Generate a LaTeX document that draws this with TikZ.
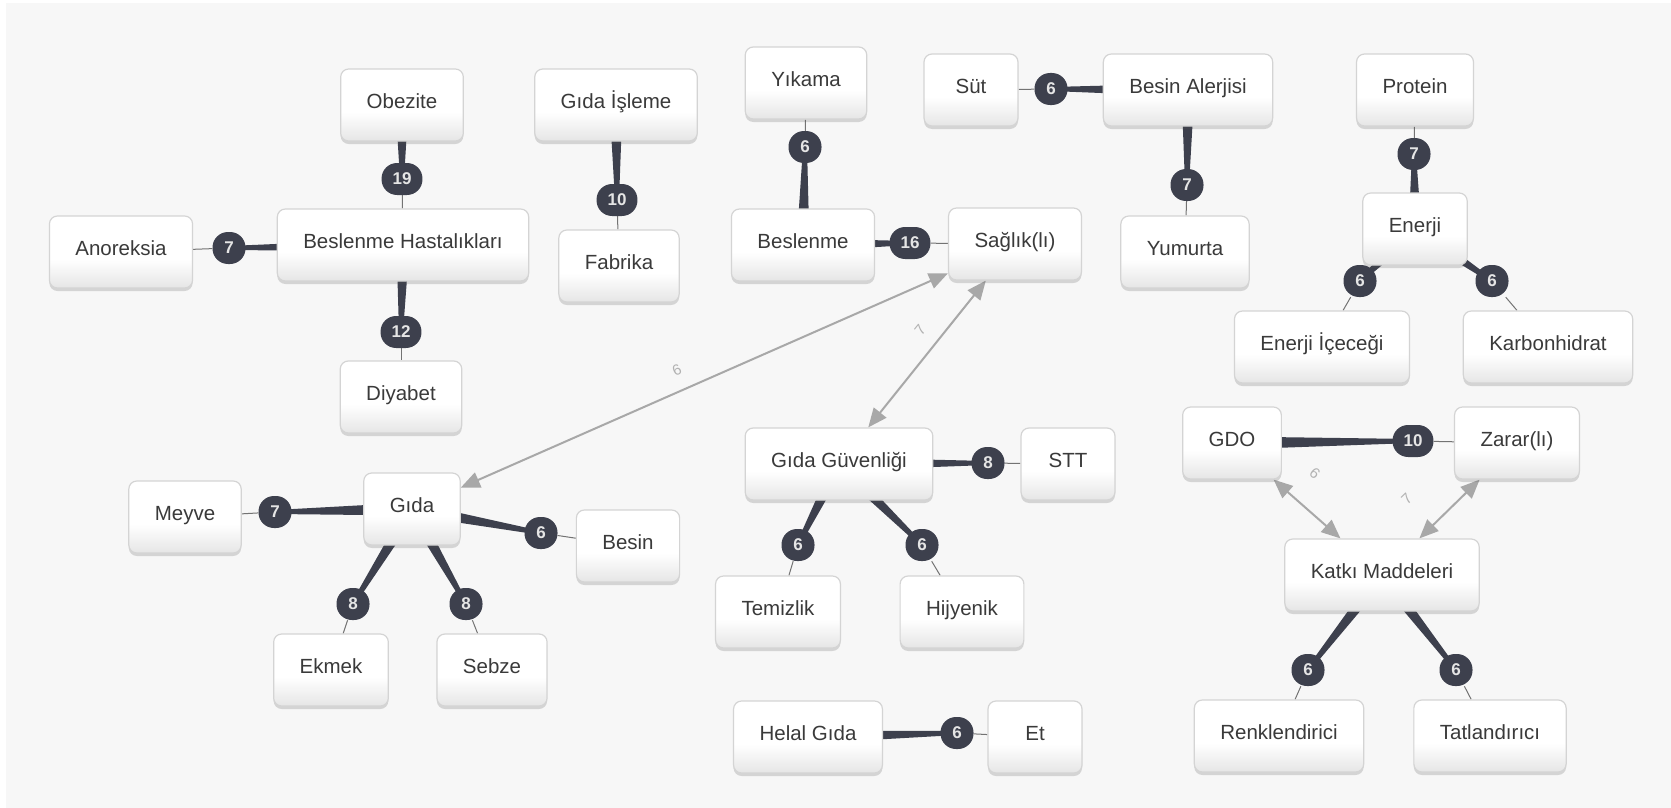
\documentclass[tikz,border=0pt]{standalone}
\usepackage{fontspec}
\setmainfont{Liberation Sans}
\usetikzlibrary{calc,shadows,arrows.meta}
\definecolor{bgc}{HTML}{F7F7F7}
\definecolor{dark}{HTML}{3D404D}
\definecolor{txt}{HTML}{3A3A3A}
\definecolor{arr}{HTML}{A8A8A8}
\definecolor{brd}{HTML}{D4D4D4}
\pgfdeclareverticalshading{boxshade}{100bp}{color(0bp)=(black!10); color(25bp)=(black!10); color(45bp)=(white); color(100bp)=(white)}
\pgfdeclarelayer{back}
\pgfdeclarelayer{edges}
\pgfsetlayers{back,edges,main}
\newcommand\wedgeedge[2]{\fill[dark] ($(#1.center)!6.5pt!90:(#2.center)$) -- ($(#2.center)!2pt!-90:(#1.center)$) -- ($(#2.center)!2pt!90:(#1.center)$) -- ($(#1.center)!6.5pt!-90:(#2.center)$) -- cycle;}
\begin{document}
\begin{tikzpicture}[x=1pt,y=-1pt,
  box/.style={rectangle, rounded corners=8pt, draw=brd, line width=1.2pt, shade, shading=boxshade,
    minimum height=72pt, minimum width=94pt, inner xsep=26pt, inner ysep=0pt, text=txt,
    text height=1.5ex, text depth=.25ex, font=\fontsize{20.5}{24}\selectfont,
    drop shadow={shadow xshift=0pt, shadow yshift=-3pt, opacity=0.2, fill=black!70}},
  badge/.style={rectangle, rounded corners=15.5pt, fill=dark, minimum height=32pt, minimum width=33pt,
    inner xsep=11pt, inner ysep=0pt, text=black!10, font=\fontsize{17}{20}\selectfont\bfseries},
  thinl/.style={draw=black!55, line width=1pt},
  arrowe/.style={draw=arr, line width=2pt, {Triangle[length=19pt,width=16pt]}-{Triangle[length=19pt,width=16pt]}},
  lbl/.style={text=black!30, font=\fontsize{15}{17}\selectfont, sloped, above=14pt, inner sep=0pt}
]
\useasboundingbox (0,0) rectangle (1671,808);
\begin{pgfonlayer}{back}
\fill[white] (0,0) rectangle (1671,808);
\fill[bgc] (6,3) rectangle (1671,808);
\end{pgfonlayer}

% concept nodes
\node[box] (anor) at (121,252) {Anoreksia};
\node[box] (bh) at (403,245) {Beslenme Hastalıkları};
\node[box] (obez) at (402,105) {Obezite};
\node[box] (diy) at (401,397) {Diyabet};
\node[box] (gis) at (616,105) {Gıda İşleme};
\node[box] (fab) at (619,266) {Fabrika};
\node[box] (yik) at (806,83) {Yıkama};
\node[box] (besl) at (803,245) {Beslenme};
\node[box] (sag) at (1015,244) {Sağlık(lı)};
\node[box] (sut) at (971,90) {Süt};
\node[box] (ba) at (1188,90) {Besin Alerjisi};
\node[box] (yum) at (1185,252) {Yumurta};
\node[box] (prot) at (1415,90) {Protein};
\node[box] (enr) at (1415,229) {Enerji};
\node[box] (ei) at (1322,347) {Enerji İçeceği};
\node[box] (karb) at (1548,347) {Karbonhidrat};
\node[box] (mey) at (185,517) {Meyve};
\node[box] (gida) at (412,509) {Gıda};
\node[box] (besin) at (628,546) {Besin};
\node[box] (ekm) at (331,670) {Ekmek};
\node[box] (seb) at (492,670) {Sebze};
\node[box] (gg) at (839,464) {Gıda Güvenliği};
\node[box] (stt) at (1068,464) {STT};
\node[box] (tem) at (778,612) {Temizlik};
\node[box] (hij) at (962,612) {Hijyenik};
\node[box] (helal) at (808,737) {Helal Gıda};
\node[box] (et) at (1035,737) {Et};
\node[box] (gdo) at (1232,443) {GDO};
\node[box] (zar) at (1517,443) {Zarar(lı)};
\node[box] (kat) at (1382,575) {Katkı Maddeleri};
\node[box] (renk) at (1279,736) {Renklendirici};
\node[box] (tat) at (1490,736) {Tatlandırıcı};

% count badges
\node[badge] (b19) at (402,179) {19};
\node[badge] (b7a) at (229,248) {7};
\node[badge] (b12) at (401,332) {12};
\node[badge] (b10a) at (617,200) {10};
\node[badge] (b6y) at (805,147) {6};
\node[badge] (b16) at (910,243) {16};
\node[badge] (b6s) at (1051,89) {6};
\node[badge] (b7y) at (1187,185) {7};
\node[badge] (b7p) at (1414,154) {7};
\node[badge] (b6e) at (1360,281) {6};
\node[badge] (b6k) at (1492,281) {6};
\node[badge] (b7m) at (275,512) {7};
\node[badge] (b6b) at (541,533) {6};
\node[badge] (b8e) at (353,604) {8};
\node[badge] (b8s) at (466,604) {8};
\node[badge] (b8t) at (988,463) {8};
\node[badge] (b6t) at (798,545) {6};
\node[badge] (b6h) at (922,545) {6};
\node[badge] (b6et) at (957,733) {6};
\node[badge] (b10g) at (1413,441) {10};
\node[badge] (b6r) at (1308,670) {6};
\node[badge] (b6ta) at (1456,670) {6};

\begin{pgfonlayer}{edges}
% thick tapered parts
\wedgeedge{obez}{b19}
\wedgeedge{bh}{b7a}
\wedgeedge{bh}{b12}
\wedgeedge{gis}{b10a}
\wedgeedge{besl}{b6y}
\wedgeedge{besl}{b16}
\wedgeedge{ba}{b6s}
\wedgeedge{ba}{b7y}
\wedgeedge{enr}{b7p}
\wedgeedge{enr}{b6e}
\wedgeedge{enr}{b6k}
\wedgeedge{gida}{b7m}
\wedgeedge{gida}{b6b}
\wedgeedge{gida}{b8e}
\wedgeedge{gida}{b8s}
\wedgeedge{gg}{b8t}
\wedgeedge{gg}{b6t}
\wedgeedge{gg}{b6h}
\wedgeedge{helal}{b6et}
\wedgeedge{gdo}{b10g}
\wedgeedge{kat}{b6r}
\wedgeedge{kat}{b6ta}
% thin parts
\draw[thinl] (b19) -- (bh);
\draw[thinl] (b7a) -- (anor);
\draw[thinl] (b12) -- (diy);
\draw[thinl] (b10a) -- (fab);
\draw[thinl] (b6y) -- (yik);
\draw[thinl] (b16) -- (sag);
\draw[thinl] (b6s) -- (sut);
\draw[thinl] (b7y) -- (yum);
\draw[thinl] (b7p) -- (prot);
\draw[thinl] (b6e) -- (ei);
\draw[thinl] (b6k) -- (karb);
\draw[thinl] (b7m) -- (mey);
\draw[thinl] (b6b) -- (besin);
\draw[thinl] (b8e) -- (ekm);
\draw[thinl] (b8s) -- (seb);
\draw[thinl] (b8t) -- (stt);
\draw[thinl] (b6t) -- (tem);
\draw[thinl] (b6h) -- (hij);
\draw[thinl] (b6et) -- (et);
\draw[thinl] (b10g) -- (zar);
\draw[thinl] (b6r) -- (renk);
\draw[thinl] (b6ta) -- (tat);
% grey two-way links
\draw[arrowe] (gida) -- node[lbl, pos=0.46] {6} (sag);
\draw[arrowe] (gg) -- node[lbl, pos=0.575] {7} (sag);
\draw[arrowe] (gdo) -- node[lbl, pos=0.30, above=12pt] {6} (kat);
\draw[arrowe] (kat) -- node[lbl, pos=0.22, above=17pt] {7} (zar);
\end{pgfonlayer}
\end{tikzpicture}
\end{document}
